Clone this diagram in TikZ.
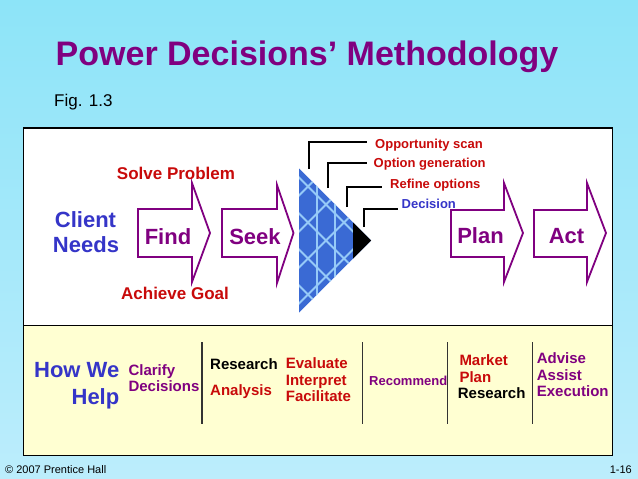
\documentclass[tikz,border=0pt]{standalone}
\usepackage{fontspec}
\setmainfont{Liberation Sans}
\definecolor{pdpurple}{HTML}{800080}
\definecolor{pdred}{HTML}{C80A0A}
\definecolor{pdblue}{HTML}{3535C8}
\definecolor{bgtop}{HTML}{8DE4F8}
\definecolor{bgbot}{HTML}{BCEDFC}
\definecolor{paleyellow}{HTML}{FFFFD2}
\definecolor{triblue}{HTML}{3A6AD4}
\definecolor{trilines}{HTML}{96CAF8}
\begin{document}
\begin{tikzpicture}[x=1pt,y=-1pt,
  txt/.style={inner sep=0pt,anchor=base west},
  big/.style={txt,font=\fontsize{22}{26}\selectfont\bfseries},
  mid/.style={txt,font=\fontsize{15}{18}\selectfont\bfseries},
  sml/.style={txt,font=\fontsize{13}{15}\selectfont\bfseries},
  arrowline/.style={draw=pdpurple,line width=1.8pt,fill=white,line join=miter},
  leader/.style={draw=black,line width=2pt},
  divider/.style={draw=black!80,line width=1.6pt},
  lattice/.style={draw=trilines,line width=1.9pt}]
% background
\shade[top color=bgtop,bottom color=bgbot] (0,0) rectangle (638,479);
\useasboundingbox (0,0) rectangle (638,479);
% main box
\fill[white] (23.5,128) rectangle (612.5,325.5);
\fill[paleyellow] (23.5,325.5) rectangle (612.5,455.5);
\draw[line width=1.5pt] (23.5,128) rectangle (612.5,455.5);
\draw[line width=1.5pt] (23.5,325.5) -- (612.5,325.5);
% title
\node[inner sep=0pt,anchor=base,font=\fontsize{34}{40}\selectfont\bfseries,text=pdpurple] (title) at (307,65) {Power Decisions’ Methodology};
\node[txt,font=\fontsize{17}{20}\selectfont] (fig) at (54,106.5) {Fig. 1.3};
% client needs
\node[big,anchor=base,text=pdblue] (client) at (85.5,227.3) {Client};
\node[big,anchor=base,text=pdblue] (needs) at (86,252.7) {Needs};
% arrows
\draw[arrowline] (138,209) -- (192,209) -- (192,183) -- (210,233) -- (192,282) -- (192,257) -- (138,257) -- cycle;
\draw[arrowline] (222,209) -- (277,209) -- (277,185) -- (293.5,233) -- (277,283) -- (277,257) -- (222,257) -- cycle;
\draw[arrowline] (451,210) -- (504,210) -- (504,183) -- (523,233) -- (504,282) -- (504,257) -- (451,257) -- cycle;
\draw[arrowline] (534,210) -- (587,210) -- (587,183) -- (606,233) -- (587,282) -- (587,257) -- (534,257) -- cycle;
\node[big,anchor=base,text=pdpurple] (find) at (168,244) {Find};
\node[big,anchor=base,text=pdpurple] (seek) at (255,244) {Seek};
\node[big,anchor=base,text=pdpurple] (plan) at (480.5,243) {Plan};
\node[big,anchor=base,text=pdpurple] (act) at (566.5,243) {Act};
\node[txt,anchor=base,font=\fontsize{17}{20}\selectfont\bfseries,text=pdred] (solve) at (176,179) {Solve Problem};
\node[txt,anchor=base,font=\fontsize{17}{20}\selectfont\bfseries,text=pdred] (achieve) at (175,299) {Achieve Goal};
% decision triangle
\begin{scope}[shift={(299,240.5)},x=18pt,y=18pt]
  \fill[triblue] (0,-4) -- (0,4) -- (4,0) -- cycle;
  \begin{scope}
    \clip (0,-4) -- (0,4) -- (4,0) -- cycle;
    \foreach \a in {-3.5,-1.5,0.5,2.5}
      \draw[lattice] (-1,\a-1) -- (5,\a+5);
    \foreach \b in {-2.5,-0.5,1.5,3.5}
      \draw[lattice] (-1,\b+1) -- (5,\b-5);
    \draw[lattice] (1,-4) -- (1,4) (2,-4) -- (2,4);
  \end{scope}
  \fill[black] (3,-1) -- (3,1) -- (4,0) -- cycle;
\end{scope}
% leader labels
\node[sml,text=pdred] (opp) at (375,148) {Opportunity scan};
\node[sml,text=pdred] (optgen) at (373.5,167.5) {Option generation};
\node[sml,text=pdred] (refine) at (390,188) {Refine options};
\node[sml,text=pdblue] (decision) at (401.5,208) {Decision};
\coordinate (l1a) at (309,169); \coordinate (l1b) at (367,142);
\coordinate (l2a) at (328,188); \coordinate (l2b) at (367,163);
\coordinate (l3a) at (347,207); \coordinate (l3b) at (382,187);
\coordinate (l4a) at (364,227); \coordinate (l4b) at (398,209);
\draw[leader] (l1a) |- (l1b);
\draw[leader] (l2a) |- (l2b);
\draw[leader] (l3a) |- (l3b);
\draw[leader] (l4a) |- (l4b);
% how we help
\node[big,anchor=base east,text=pdblue] (howwe) at (119.5,377.3) {How We};
\node[big,anchor=base east,text=pdblue] (help) at (119.5,404) {Help};
\node[mid,text=pdpurple] (clarify) at (128.3,375) {Clarify};
\node[mid,text=pdpurple] (decisions) at (128.3,391) {Decisions};
\draw[divider] (201.7,342) -- (201.7,424.3);
\node[mid,text=black] (research1) at (210,369) {Research};
\node[mid,text=pdred] (analysis) at (210,395.7) {Analysis};
\node[mid,text=pdred] (evaluate) at (285.7,368.3) {Evaluate};
\node[mid,text=pdred] (interpret) at (285.7,385) {Interpret};
\node[mid,text=pdred] (facilitate) at (285.7,401.5) {Facilitate};
\draw[divider] (362.3,342) -- (362.3,424.3);
\node[sml,text=pdpurple] (recommend) at (369,385) {Recommend};
\draw[divider] (447.3,342) -- (447.3,424.3);
\node[mid,text=pdred] (market) at (459.3,365.7) {Market};
\node[mid,text=pdred] (mplan) at (459.3,382.3) {Plan};
\node[mid,text=black] (research2) at (457.7,398.3) {Research};
\draw[divider] (532.3,342) -- (532.3,424.3);
\node[mid,text=pdpurple] (advise) at (536.7,363.3) {Advise};
\node[mid,text=pdpurple] (assist) at (536.7,380) {Assist};
\node[mid,text=pdpurple] (execution) at (536.7,396.7) {Execution};
% footer
\node[txt,font=\fontsize{11}{13}\selectfont] (copy) at (5,473.5) {© 2007 Prentice Hall};
\node[txt,anchor=base east,font=\fontsize{11}{13}\selectfont] (page) at (632,473.5) {1-16};
\end{tikzpicture}
\end{document}
